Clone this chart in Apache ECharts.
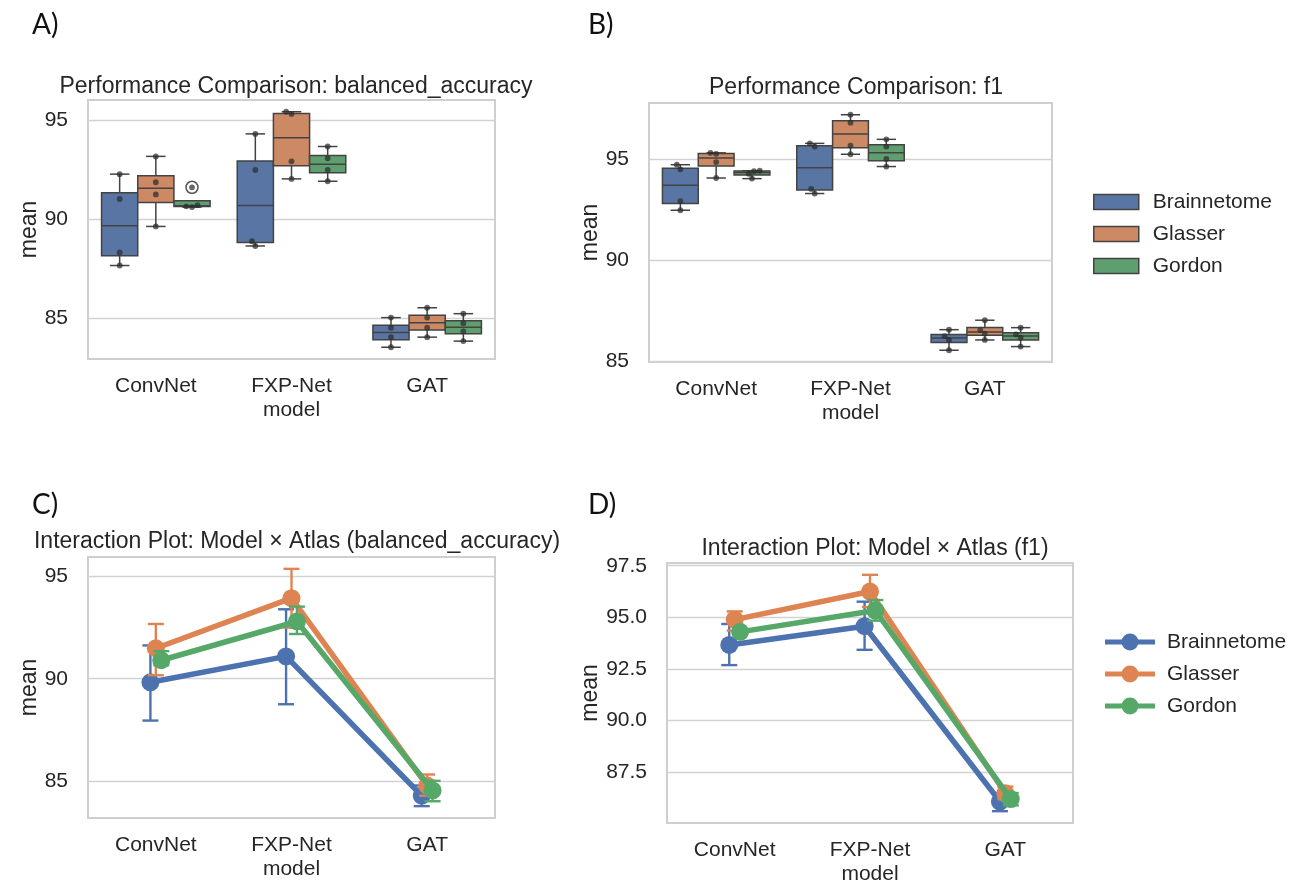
<!DOCTYPE html>
<html>
<head>
<meta charset="utf-8">
<title>Model × Atlas</title>
<script src="https://cdn.jsdelivr.net/npm/echarts@6.0.0/dist/echarts.min.js"></script>
<style>
  html, body { margin: 0; padding: 0; background: #fff; }
  #main { width: 1307px; height: 888px; }
</style>
</head>
<body>
<div id="main"></div>
<script>
// categories
var models = ['ConvNet', 'FXP-Net model', 'GAT'];
var atlases = ['Brainnetome', 'Glasser', 'Gordon'];

// balanced_accuracy, 4 folds per model (rows: ConvNet, FXP-Net model, GAT)
var baBrainnetome = [[87.66, 88.32, 91.03, 92.29], [88.65, 88.89, 92.50, 94.33], [83.52, 84.03, 84.51, 85.02]];
var baGlasser     = [[89.64, 91.26, 91.88, 93.19], [92.05, 92.94, 95.34, 95.45], [84.03, 84.51, 85.02, 85.52]];
var baGordon      = [[90.62, 90.66, 90.72, 91.62], [91.93, 92.50, 93.09, 93.69], [83.83, 84.32, 84.74, 85.22]];

// f1, 4 folds per model
var f1Brainnetome = [[92.48, 92.93, 94.51, 94.74], [93.31, 93.54, 95.64, 95.80], [85.53, 86.04, 86.23, 86.55]];
var f1Glasser     = [[94.08, 94.87, 95.28, 95.33], [95.26, 95.69, 96.83, 97.22], [86.04, 86.35, 86.53, 87.02]];
var f1Gordon      = [[94.05, 94.29, 94.42, 94.44], [94.65, 95.03, 95.64, 96.00], [85.71, 86.15, 86.32, 86.65]];

// 95% CI of the mean [low, high] per model
var baCiBrainnetome = [[87.95, 91.63], [88.75, 93.40], [83.76, 84.77]];
var baCiGlasser     = [[90.17, 92.68], [92.50, 95.38], [84.27, 85.31]];
var baCiGordon      = [[90.66, 91.35], [92.19, 93.53], [84.00, 85.00]];
var f1CiBrainnetome = [[92.69, 94.68], [93.43, 95.76], [85.62, 86.50]];
var f1CiGlasser     = [[94.36, 95.29], [95.50, 97.06], [86.20, 86.81]];
var f1CiGordon      = [[94.15, 94.43], [94.84, 95.84], [85.90, 86.50]];

// tick labels
var baTicks = [85, 90, 95];
var f1BoxTicks = [85, 90, 95];
var f1LineTicks = [87.5, 90, 92.5, 95, 97.5];

var baFolds = [baBrainnetome, baGlasser, baGordon];
var f1Folds = [f1Brainnetome, f1Glasser, f1Gordon];
var baCis = [baCiBrainnetome, baCiGlasser, baCiGordon];
var f1Cis = [f1CiBrainnetome, f1CiGlasser, f1CiGordon];

var boxColors = ['#5875a4', '#cc8963', '#5f9e6e'];
var lineColors = ['#4c72b0', '#dd8452', '#55a868'];
var dodge = [-0.04, 0, 0.04];
var font = 'Liberation Sans, Arial, sans-serif';
var ink = '#262626';
var edge = '#434343';

function quantile(sorted, p) {
  var pos = (sorted.length - 1) * p;
  var lo = Math.floor(pos), hi = Math.ceil(pos);
  return sorted[lo] + (sorted[hi] - sorted[lo]) * (pos - lo);
}
function mean(a) {
  return a.reduce(function (s, v) { return s + v; }, 0) / a.length;
}
// data range + 5% margin, like matplotlib autoscale
function padded(values) {
  var lo = Math.min.apply(null, values), hi = Math.max.apply(null, values);
  var m = (hi - lo) * 0.05;
  return [lo - m, hi + m];
}
function flat(list) {
  var out = [];
  list.forEach(function (a) { a.forEach(function (b) { out = out.concat(b); }); });
  return out;
}

// beeswarm offsets (px) for points sorted by y
function swarm(ys, d) {
  var placed = [];
  ys.forEach(function (py) {
    var cands = [0];
    placed.forEach(function (p) {
      var dy = Math.abs(p.y - py);
      if (dy < d) {
        var dx = Math.sqrt(d * d - dy * dy);
        cands.push(p.x - dx, p.x + dx);
      }
    });
    cands.sort(function (a, b) { return Math.abs(a) - Math.abs(b) || a - b; });
    var x = cands.find(function (c) {
      return placed.every(function (p) { return Math.hypot(p.x - c, p.y - py) >= d - 1e-6; });
    });
    placed.push({ x: x, y: py });
  });
  return placed;
}

// box + whiskers + fliers + swarm points for one atlas
function boxRenderer(hue) {
  return function (params, api) {
    var cat = api.value(0);
    var vals = [api.value(1), api.value(2), api.value(3), api.value(4)].sort(function (a, b) { return a - b; });
    var q1 = quantile(vals, 0.25), med = quantile(vals, 0.5), q3 = quantile(vals, 0.75);
    var iqr = q3 - q1;
    var inside = vals.filter(function (v) { return v >= q1 - 1.5 * iqr && v <= q3 + 1.5 * iqr; });
    var fliers = vals.filter(function (v) { return inside.indexOf(v) < 0; });
    var band = api.size([1, 0])[0];
    var w = band * 0.8 / 3;
    var cx = api.coord([cat, med])[0] + (hue - 1) * w;
    var y = function (v) { return api.coord([cat, v])[1]; };
    var capW = w * 0.27;
    var ls = { stroke: edge, lineWidth: 1.5 };
    var wLo = inside[0], wHi = inside[inside.length - 1];
    var kids = [
      { type: 'line', shape: { x1: cx, y1: y(q3), x2: cx, y2: y(wHi) }, style: ls },
      { type: 'line', shape: { x1: cx, y1: y(q1), x2: cx, y2: y(wLo) }, style: ls },
      { type: 'line', shape: { x1: cx - capW, y1: y(wHi), x2: cx + capW, y2: y(wHi) }, style: ls },
      { type: 'line', shape: { x1: cx - capW, y1: y(wLo), x2: cx + capW, y2: y(wLo) }, style: ls },
      { type: 'rect', shape: { x: cx - w / 2, y: y(q3), width: w, height: y(q1) - y(q3) },
        style: { fill: boxColors[hue], stroke: edge, lineWidth: 1.5 } },
      { type: 'line', shape: { x1: cx - w / 2, y1: y(med), x2: cx + w / 2, y2: y(med) }, style: ls }
    ];
    fliers.forEach(function (v) {
      kids.push({ type: 'circle', shape: { cx: cx, cy: y(v), r: 6 }, style: { fill: 'none', stroke: '#555', lineWidth: 1.5 } });
    });
    swarm(vals.map(y), 5.8).forEach(function (p) {
      kids.push({ type: 'circle', shape: { cx: cx + p.x, cy: p.y, r: 2.9 }, style: { fill: 'rgba(45,45,45,0.72)' } });
    });
    return { type: 'group', children: kids };
  };
}

// vertical CI bar with caps
function errRenderer(hue) {
  return function (params, api) {
    var lo = api.coord([api.value(0), api.value(1)]);
    var hi = api.coord([api.value(0), api.value(2)]);
    var s = { stroke: lineColors[hue], lineWidth: 2.4 };
    return { type: 'group', children: [
      { type: 'line', shape: { x1: lo[0], y1: lo[1], x2: hi[0], y2: hi[1] }, style: s },
      { type: 'line', shape: { x1: lo[0] - 8, y1: lo[1], x2: lo[0] + 8, y2: lo[1] }, style: s },
      { type: 'line', shape: { x1: hi[0] - 8, y1: hi[1], x2: hi[0] + 8, y2: hi[1] }, style: s }
    ] };
  };
}

var chart = echarts.init(document.getElementById('main'));

var grids = [
  { left: 88, top: 100, width: 407, height: 259 },
  { left: 649, top: 103, width: 403, height: 259 },
  { left: 88, top: 557, width: 407, height: 261 },
  { left: 667, top: 563, width: 406, height: 260 }
];
grids.forEach(function (g) {
  g.show = true; g.borderColor = '#cfcfcf'; g.borderWidth = 2; g.containLabel = false;
});

function catAxis(gi) {
  return {
    type: 'category', gridIndex: gi, data: models, boundaryGap: true,
    axisLine: { show: false }, axisTick: { show: false }, splitLine: { show: false },
    axisLabel: {
      color: ink, fontSize: 21, fontFamily: font, margin: 15, lineHeight: 24,
      formatter: function (v) { return v.replace(' ', '\n'); }
    }
  };
}
function valAxis(gi, ext, ticks, digits) {
  return {
    type: 'value', gridIndex: gi, min: ext[0], max: ext[1],
    name: 'mean', nameLocation: 'middle', nameGap: 45, nameRotate: 90,
    nameTextStyle: { color: ink, fontSize: 23, fontFamily: font },
    axisLine: { show: false },
    axisTick: { show: false, customValues: ticks },
    axisLabel: { color: ink, fontSize: 21, fontFamily: font, margin: 20, customValues: ticks,
      formatter: function (v) { return v.toFixed(digits); } },
    splitLine: { show: true, lineStyle: { color: '#d2d2d2', width: 1.4 } }
  };
}

var baLineVals = flat(baCis);
var f1LineVals = flat(f1Cis);

var xAxes = [
  catAxis(0), catAxis(1), catAxis(2),
  { type: 'value', gridIndex: 2, min: -0.5, max: 2.5, show: false },
  catAxis(3),
  { type: 'value', gridIndex: 3, min: -0.5, max: 2.5, show: false }
];
var yAxes = [
  valAxis(0, padded(flat(baFolds)), baTicks, 0),
  valAxis(1, padded(flat(f1Folds)), f1BoxTicks, 0),
  valAxis(2, padded(baLineVals), baTicks, 0),
  valAxis(3, padded(f1LineVals), f1LineTicks, 1)
];

var series = [];
// panels A and B: box plots
[[baFolds, 0, 0], [f1Folds, 1, 1]].forEach(function (p) {
  atlases.forEach(function (name, h) {
    series.push({
      type: 'custom', name: name, xAxisIndex: p[1], yAxisIndex: p[2],
      renderItem: boxRenderer(h), encode: { x: 0, y: [1, 2, 3, 4] },
      itemStyle: { color: boxColors[h] },
      data: p[0][h].map(function (v, i) { return [i].concat(v); })
    });
  });
});
// panels C and D: interaction plots
[[baFolds, baCis, 3, 2], [f1Folds, f1Cis, 5, 3]].forEach(function (p) {
  atlases.forEach(function (name, h) {
    series.push({
      type: 'custom', name: name, xAxisIndex: p[2], yAxisIndex: p[3], z: 2 + h * 2,
      renderItem: errRenderer(h), encode: { x: 0, y: [1, 2] },
      itemStyle: { color: lineColors[h] },
      data: p[1][h].map(function (ci, i) { return [i + dodge[h], ci[0], ci[1]]; })
    });
    series.push({
      type: 'line', name: name, xAxisIndex: p[2], yAxisIndex: p[3], z: 3 + h * 2,
      symbol: 'circle', symbolSize: 18,
      lineStyle: { width: 5.5, color: lineColors[h] },
      itemStyle: { color: lineColors[h] },
      data: p[0][h].map(function (f, i) { return [i + dodge[h], mean(f)]; })
    });
  });
});

var lineIcon = 'path://M0,6L16.8,6L16.8,11L0,11Z M33.2,6L50,6L50,11L33.2,11Z M16.5,8.5A8.5,8.5 0 1,1 33.5,8.5A8.5,8.5 0 1,1 16.5,8.5Z';

var option = {
  animation: false,
  backgroundColor: '#ffffff',
  grid: grids,
  xAxis: xAxes,
  yAxis: yAxes,
  title: [
    { text: 'Performance Comparison: balanced_accuracy', left: 291, top: 70, textAlign: 'center' },
    { text: 'Performance Comparison: f1', left: 851, top: 71, textAlign: 'center' },
    { text: 'Interaction Plot: Model × Atlas (balanced_accuracy)', left: 292, top: 525, textAlign: 'center' },
    { text: 'Interaction Plot: Model × Atlas (f1)', left: 870, top: 532, textAlign: 'center' }
  ].map(function (t) {
    t.textStyle = { color: ink, fontSize: 23, fontWeight: 'normal', fontFamily: font };
    return t;
  }),
  legend: [
    {
      orient: 'vertical', left: 1088, top: 185, itemWidth: 45, itemHeight: 15, itemGap: 8,
      textStyle: { color: ink, fontSize: 21, fontFamily: font, lineHeight: 24, padding: [0, 0, 0, 9] },
      data: atlases.map(function (n, h) {
        return { name: n, icon: 'rect', itemStyle: { color: boxColors[h], borderColor: edge, borderWidth: 1.5 } };
      })
    },
    {
      orient: 'vertical', left: 1100, top: 625, itemWidth: 50, itemHeight: 17, itemGap: 8,
      textStyle: { color: ink, fontSize: 21, fontFamily: font, lineHeight: 24, padding: [0, 0, 0, 7] },
      data: atlases.map(function (n, h) {
        return { name: n, icon: lineIcon, itemStyle: { color: lineColors[h], borderWidth: 0 } };
      })
    }
  ],
  graphic: [
    ['A)', 32, 11], ['B)', 588, 11], ['C)', 32, 491], ['D)', 588, 491]
  ].map(function (g) {
    return { type: 'text', left: g[1], top: g[2],
      style: { text: g[0], font: '28px Lato, "Open Sans", sans-serif', fill: '#111' } };
  }),
  series: series
};

chart.setOption(option);
</script>
</body>
</html>
